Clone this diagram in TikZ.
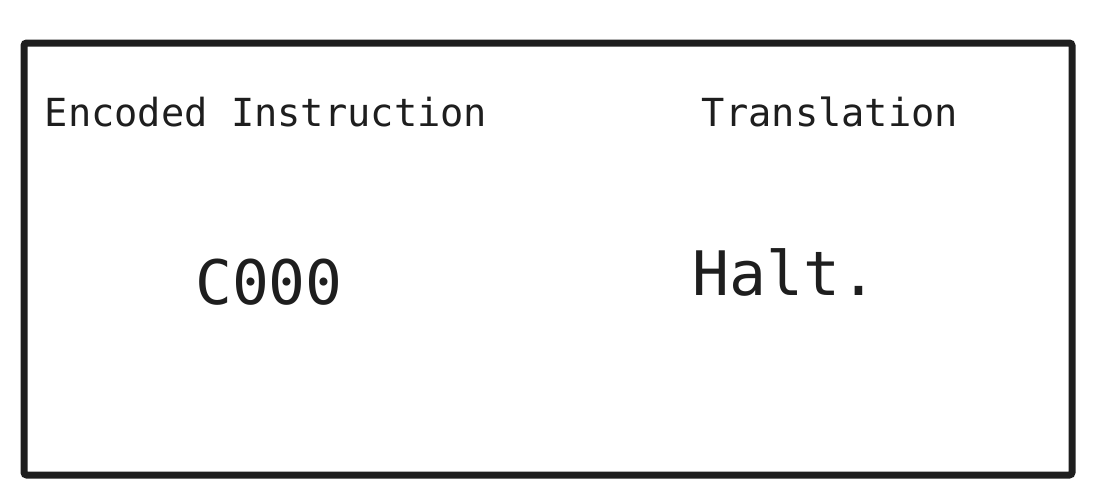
\documentclass[tikz,border=0pt]{standalone}
\usepackage{fontspec}
\setmonofont{DejaVu Sans Mono}
\definecolor{ink}{RGB}{30,30,30}

\begin{document}
\begin{tikzpicture}[x=0.75pt,y=-0.75pt,
    header/.style={anchor=base,inner sep=0pt,text=ink,font=\ttfamily\fontsize{29}{34}\selectfont},
    value/.style={anchor=base,inner sep=0pt,text=ink,font=\ttfamily\fontsize{46}{55}\selectfont}]
    \useasboundingbox (0,0) rectangle (1111,500);
    \draw[draw=ink,line width=5.25pt,rounded corners=2pt] (24,43) rectangle (1072,475);
    \node[header] (enc) at (266,126) {Encoded Instruction};
    \node[header] (tr) at (830,126) {Translation};
    \node[value] (code) at (269,304) {C000};
    \node[value] (halt) at (785,295) {Halt.};
\end{tikzpicture}
\end{document}
